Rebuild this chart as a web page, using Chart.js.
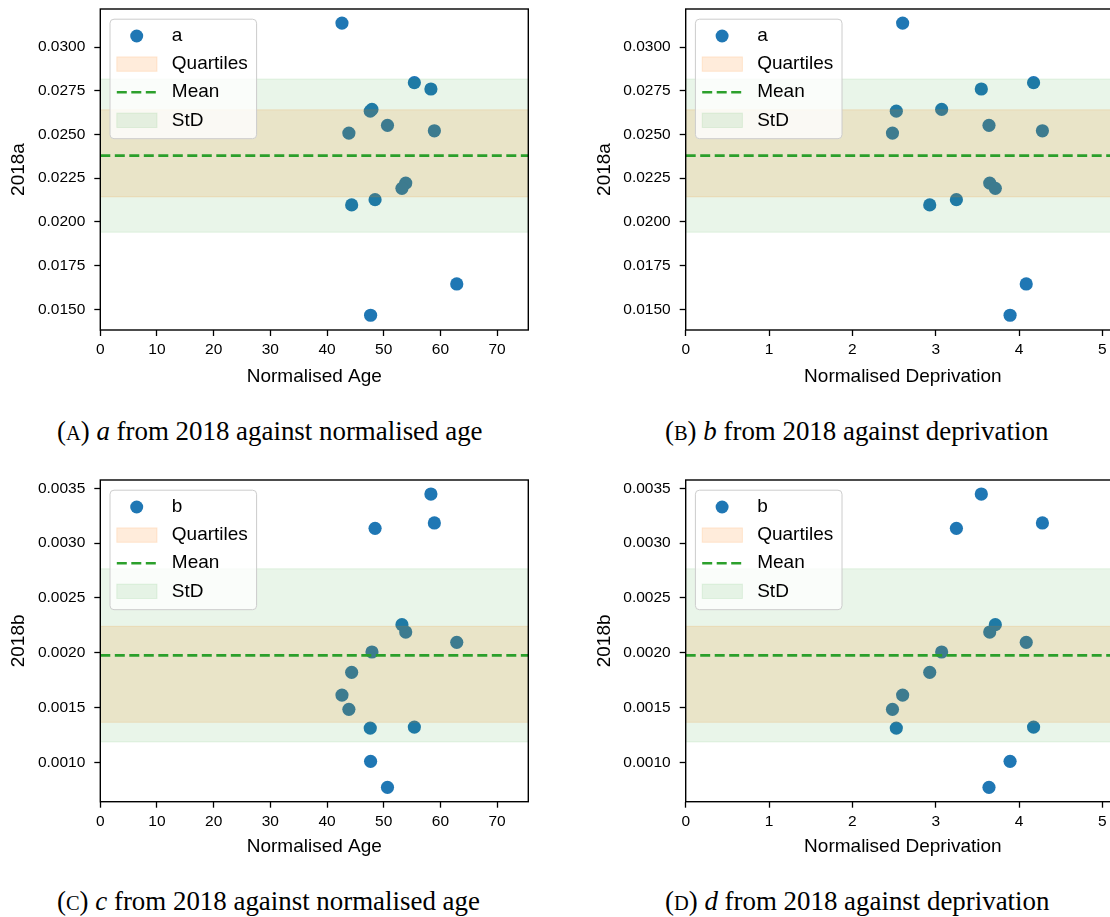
<!DOCTYPE html>
<html>
<head>
<meta charset="utf-8">
<script src="https://cdn.jsdelivr.net/npm/chart.js@4/dist/chart.umd.min.js"></script>
<style>
  html, body { margin: 0; padding: 0; background: #fff; width: 1110px; height: 917px; overflow: hidden; }
  .panel { position: absolute; }
  .panel canvas { display: block; }
  .caption { position: absolute; font-family: "Liberation Serif", "Times New Roman", serif; font-size: 26.9px;
             line-height: 1; white-space: nowrap; color: #000; }
  .caption .sc { font-size: 0.76em; }
</style>
</head>
<body>
<div class="panel" style="left:0px;top:0px"><canvas id="panelA" width="545" height="395"></canvas></div>
<div class="panel" style="left:560px;top:0px"><canvas id="panelB" width="568" height="395"></canvas></div>
<div class="panel" style="left:0px;top:470px"><canvas id="panelC" width="545" height="395"></canvas></div>
<div class="panel" style="left:560px;top:470px"><canvas id="panelD" width="568" height="395"></canvas></div>

<div class="caption" style="left:57px;top:418px">(<span class="sc">A</span>) <i>a</i> from 2018 against normalised age</div>
<div class="caption" style="left:665px;top:418px">(<span class="sc">B</span>) <i>b</i> from 2018 against deprivation</div>
<div class="caption" style="left:57px;top:888px">(<span class="sc">C</span>) <i>c</i> from 2018 against normalised age</div>
<div class="caption" style="left:665px;top:888px">(<span class="sc">D</span>) <i>d</i> from 2018 against deprivation</div>

<script>
// One entry per region, same order in every array.
const regionAge = [42.63, 55.40, 58.32, 47.92, 47.62, 43.85, 50.66, 58.93, 53.88, 53.21, 44.34, 48.47, 62.88, 47.68];
const regionDeprivation = [2.603, 4.174, 3.547, 3.071, 2.527, 2.481, 3.639, 4.280, 3.648, 3.715, 2.928, 3.248, 4.086, 3.892];
const rate2018a = [0.03137, 0.02796, 0.02760, 0.02643, 0.02633, 0.02508, 0.02552, 0.02521, 0.02222, 0.02192, 0.02097, 0.02127, 0.01645, 0.01466];
const rate2018b = [0.001614, 0.001322, 0.003448, 0.002007, 0.001313, 0.001484, 0.000772, 0.003184, 0.002189, 0.002256, 0.001821, 0.003135, 0.002095, 0.001009];

// Summary statistics drawn as reference bands.
const mean2018a = 0.02379;
const std2018a = 0.00438;
const quartiles2018a = [0.02143, 0.02641];
const mean2018b = 0.001976;
const std2018b = 0.000790;
const quartiles2018b = [0.001365, 0.002241];

// Tick values.
const ageTicks = [0, 10, 20, 30, 40, 50, 60, 70];
const deprivationTicks = [0, 1, 2, 3, 4, 5];
const ticks2018a = [0.0150, 0.0175, 0.0200, 0.0225, 0.0250, 0.0275, 0.0300];
const ticks2018b = [0.0010, 0.0015, 0.0020, 0.0025, 0.0030, 0.0035];

// Axis limits.
const ageRange = [0, 75.5];
const deprivationRange = [0, 5.211];
const range2018a = [0.013817, 0.032175];
const range2018b = [0.000641, 0.003576];

Chart.defaults.font.family = '"Liberation Sans", Arial, Helvetica, sans-serif';
Chart.defaults.color = '#000';

const ORANGE = 'rgba(255,127,14,0.15)';
const GREEN = 'rgba(44,160,44,0.10)';
const BLUE = '#1f77b4';
const MEAN_GREEN = '#2ca02c';

// Black box around the plotting area (matplotlib-style spines).
const framePlugin = {
  id: 'frame',
  afterDatasetsDraw(chart) {
    const { ctx, chartArea: a } = chart;
    ctx.save();
    ctx.strokeStyle = '#000';
    ctx.lineWidth = 1.4;
    ctx.strokeRect(a.left, a.top, a.right - a.left, a.bottom - a.top);
    ctx.restore();
  }
};

// Inset legend in the upper-left corner of the plotting area.
const insetLegendPlugin = {
  id: 'insetLegend',
  afterDraw(chart, args, opts) {
    const { ctx, chartArea: a } = chart;
    const x0 = a.left + 9.7, y0 = a.top + 10.2, w = 146.6, h = 119.5, r = 4;
    ctx.save();
    ctx.beginPath();
    ctx.moveTo(x0 + r, y0);
    ctx.lineTo(x0 + w - r, y0);
    ctx.arcTo(x0 + w, y0, x0 + w, y0 + r, r);
    ctx.lineTo(x0 + w, y0 + h - r);
    ctx.arcTo(x0 + w, y0 + h, x0 + w - r, y0 + h, r);
    ctx.lineTo(x0 + r, y0 + h);
    ctx.arcTo(x0, y0 + h, x0, y0 + h - r, r);
    ctx.lineTo(x0, y0 + r);
    ctx.arcTo(x0, y0, x0 + r, y0, r);
    ctx.closePath();
    ctx.fillStyle = 'rgba(255,255,255,0.8)';
    ctx.fill();
    ctx.strokeStyle = '#cccccc';
    ctx.lineWidth = 1;
    ctx.stroke();

    const rowY = (i) => a.top + 27 + i * 28.1;
    const hx0 = a.left + 16.5, hx1 = a.left + 56.7;
    const textX = a.left + 71.5;

    // marker
    ctx.fillStyle = BLUE;
    ctx.beginPath();
    ctx.arc(a.left + 36.4, rowY(0), 6.5, 0, Math.PI * 2);
    ctx.fill();

    // band patches
    const patch = (i, color) => {
      const py = rowY(i) - 7.2;
      ctx.fillStyle = color;
      ctx.fillRect(hx0, py, hx1 - hx0, 14.4);
      ctx.strokeStyle = color;
      ctx.lineWidth = 1;
      ctx.strokeRect(hx0, py, hx1 - hx0, 14.4);
    };
    patch(1, ORANGE);
    patch(3, GREEN);

    // dashed mean
    ctx.strokeStyle = MEAN_GREEN;
    ctx.lineWidth = 2.6;
    ctx.setLineDash([10, 4.5]);
    ctx.beginPath();
    ctx.moveTo(hx0, rowY(2));
    ctx.lineTo(hx1, rowY(2));
    ctx.stroke();
    ctx.setLineDash([]);

    ctx.fillStyle = '#000';
    ctx.font = '19px "Liberation Sans", Arial, sans-serif';
    ctx.textBaseline = 'middle';
    ctx.textAlign = 'left';
    [opts.seriesName, 'Quartiles', 'Mean', 'StD'].forEach((t, i) => ctx.fillText(t, textX, rowY(i)));
    ctx.restore();
  }
};

function makePanel(id, p) {
  const points = p.xs.map((xv, i) => ({ x: xv, y: p.ys[i] }));
  const [xMin, xMax] = p.xRange;
  const across = (v) => [{ x: xMin, y: v }, { x: xMax, y: v }];
  const band = (label, v, color, fill, order) => ({
    type: 'line', label, data: across(v), order,
    borderColor: color, backgroundColor: color, borderWidth: 1,
    pointRadius: 0, pointHoverRadius: 0, fill, tension: 0
  });

  return new Chart(document.getElementById(id), {
    type: 'scatter',
    data: {
      datasets: [
        { label: p.seriesName, data: points, order: 4, backgroundColor: BLUE, borderColor: BLUE,
          pointRadius: 6.6, pointHoverRadius: 6.6, pointBorderWidth: 0, borderWidth: 0 },
        band('Q1', p.quartiles[0], ORANGE, false, 3),
        band('Quartiles', p.quartiles[1], ORANGE, '-1', 3),
        { type: 'line', label: 'Mean', data: across(p.mean), order: 2, borderColor: MEAN_GREEN,
          borderWidth: 2.6, borderDash: [10, 4.5], pointRadius: 0, pointHoverRadius: 0, fill: false },
        band('StD low', p.mean - p.std, GREEN, false, 1),
        band('StD', p.mean + p.std, GREEN, '-1', 1)
      ]
    },
    options: {
      responsive: false,
      animation: false,
      events: [],
      devicePixelRatio: 1,
      layout: { padding: { top: p.padTop, left: 0, right: p.padRight, bottom: 0 } },
      plugins: {
        legend: { display: false },
        tooltip: { enabled: false },
        insetLegend: { seriesName: p.seriesName }
      },
      scales: {
        x: {
          type: 'linear', position: 'bottom', min: xMin, max: xMax,
          afterBuildTicks: (s) => { s.ticks = p.xTicks.map((v) => ({ value: v })); },
          afterFit: (s) => { s.height = p.xAxisHeight; s.paddingLeft = 0; s.paddingRight = 0; },
          ticks: { padding: 4.4, color: '#000', font: { size: 15.5 }, autoSkip: false, maxRotation: 0,
                   callback: (v) => String(v) },
          grid: { display: true, drawOnChartArea: false, drawTicks: true, tickLength: 6, tickWidth: 1.3, tickColor: '#000' },
          border: { display: false },
          title: { display: true, text: p.xTitle, color: '#000', font: { size: 19 }, padding: { top: 0, bottom: 6.5 } }
        },
        y: {
          type: 'linear', position: 'left', min: p.yRange[0], max: p.yRange[1],
          afterBuildTicks: (s) => { s.ticks = p.yTicks.map((v) => ({ value: v })); },
          afterFit: (s) => { s.width = p.yAxisWidth; s.paddingTop = 0; s.paddingBottom = 0; },
          ticks: { padding: 9, color: '#000', font: { size: 15.5 }, autoSkip: false,
                   callback: (v) => Number(v).toFixed(4) },
          grid: { display: true, drawOnChartArea: false, drawTicks: true, tickLength: 6, tickWidth: 1.3, tickColor: '#000' },
          border: { display: false },
          title: { display: true, text: p.yTitle, color: '#000', font: { size: 19 }, padding: { top: p.yTitlePad, bottom: 0 } }
        }
      }
    },
    plugins: [framePlugin, insetLegendPlugin]
  });
}

makePanel('panelA', {
  xs: regionAge, ys: rate2018a, seriesName: 'a',
  mean: mean2018a, std: std2018a, quartiles: quartiles2018a,
  xRange: ageRange, yRange: range2018a, xTicks: ageTicks, yTicks: ticks2018a,
  xTitle: 'Normalised Age', yTitle: '2018a',
  padTop: 9, padRight: 16.7, yAxisWidth: 100.3, xAxisHeight: 65, yTitlePad: 7.6
});
makePanel('panelB', {
  xs: regionDeprivation, ys: rate2018a, seriesName: 'a',
  mean: mean2018a, std: std2018a, quartiles: quartiles2018a,
  xRange: deprivationRange, yRange: range2018a, xTicks: deprivationTicks, yTicks: ticks2018a,
  xTitle: 'Normalised Deprivation', yTitle: '2018a',
  padTop: 9, padRight: 8, yAxisWidth: 125.7, xAxisHeight: 65, yTitlePad: 33.2
});
makePanel('panelC', {
  xs: regionAge, ys: rate2018b, seriesName: 'b',
  mean: mean2018b, std: std2018b, quartiles: quartiles2018b,
  xRange: ageRange, yRange: range2018b, xTicks: ageTicks, yTicks: ticks2018b,
  xTitle: 'Normalised Age', yTitle: '2018b',
  padTop: 10, padRight: 16.7, yAxisWidth: 100.3, xAxisHeight: 63.3, yTitlePad: 7.6
});
makePanel('panelD', {
  xs: regionDeprivation, ys: rate2018b, seriesName: 'b',
  mean: mean2018b, std: std2018b, quartiles: quartiles2018b,
  xRange: deprivationRange, yRange: range2018b, xTicks: deprivationTicks, yTicks: ticks2018b,
  xTitle: 'Normalised Deprivation', yTitle: '2018b',
  padTop: 10, padRight: 8, yAxisWidth: 125.7, xAxisHeight: 63.3, yTitlePad: 33.2
});
</script>
</body>
</html>
